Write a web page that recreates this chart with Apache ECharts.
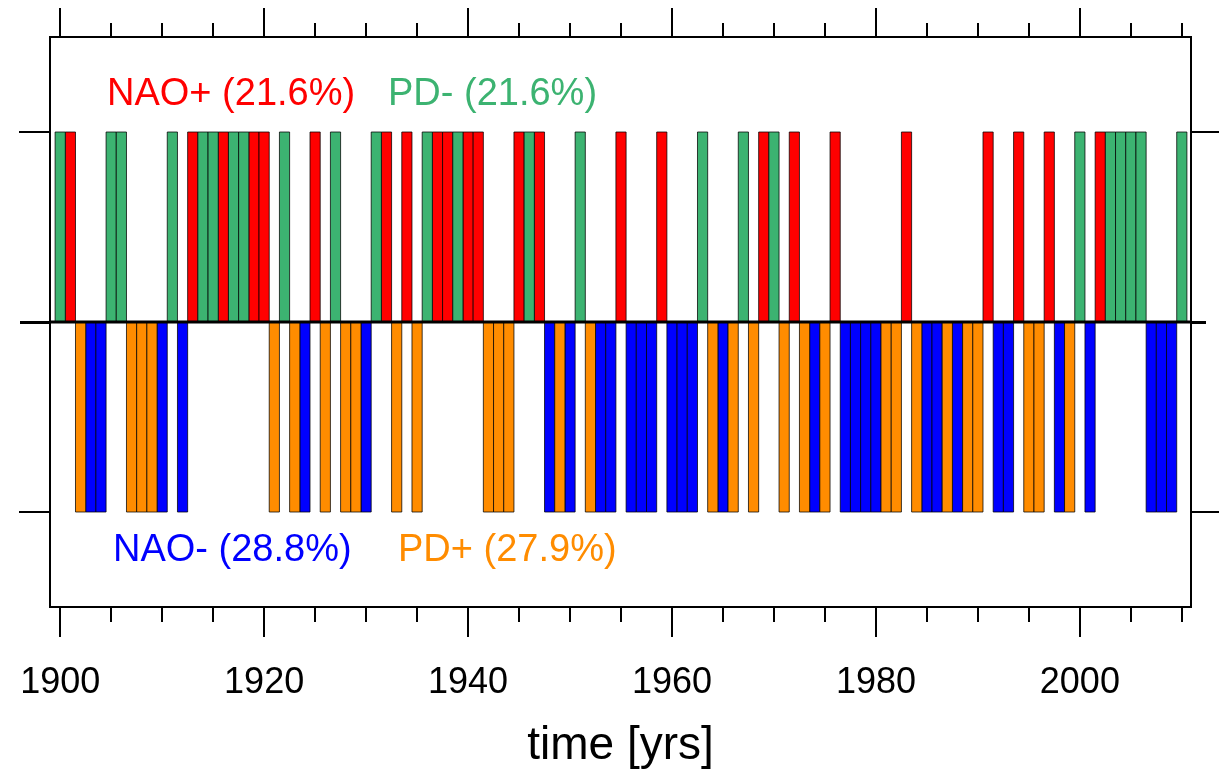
<!DOCTYPE html>
<html>
<head>
<meta charset="utf-8">
<script src="https://cdn.jsdelivr.net/npm/echarts@6/dist/echarts.min.js"></script>
<style>html,body{margin:0;padding:0;background:#fff;}#c{width:1225px;height:773px;}</style>
</head>
<body>
<div id="c"></div>
<script>
// Regime years (each year 1900-2010 belongs to one regime)
const naoPlusYears = [1901,1913,1916,1919,1920,1925,1932,1934,1937,1938,1940,1941,1945,1947,1955,1959,1969,1972,1976,1983,1991,1994,1997,2002];
const pdMinusYears = [1900,1905,1906,1911,1914,1915,1917,1918,1922,1927,1931,1936,1939,1946,1951,1963,1967,1970,2000,2003,2004,2005,2006,2010];
const naoMinusYears = [1903,1904,1910,1912,1924,1930,1948,1950,1953,1954,1956,1957,1958,1960,1961,1962,1965,1974,1977,1978,1979,1980,1985,1986,1988,1992,1993,1998,2001,2007,2008,2009];
const pdPlusYears = [1902,1907,1908,1909,1921,1923,1926,1928,1929,1933,1935,1942,1943,1944,1949,1952,1964,1966,1968,1971,1973,1975,1981,1982,1984,1987,1989,1990,1995,1996,1999];
// bar values: upper regimes +1, lower regimes -1
const upperValue = 1;
const lowerValue = -1;
// axis ticks
const majorTicks = [1900,1920,1940,1960,1980,2000];
const minorTicks = [1905,1910,1915,1925,1930,1935,1945,1950,1955,1965,1970,1975,1985,1990,1995,2005,2010];
const yTicks = [-1,1];
const zeroTick = [0];
const xMin = 1899, xMax = 2010.9;
const labels = [
  {text:'NAO+ (21.6%)', color:'#ff0000'},
  {text:'PD- (21.6%)', color:'#3cb371'},
  {text:'NAO- (28.8%)', color:'#0000ff'},
  {text:'PD+ (27.9%)', color:'#ff8c00'}
];

const FONT = '"Liberation Sans", Arial, Helvetica, sans-serif';
const chart = echarts.init(document.getElementById('c'), null, {renderer:'canvas'});

function barSeries(name, years, v, color){
  return {
    name, type:'custom', xAxisIndex:0, yAxisIndex:0,
    data: years.map(y => [y, v]),
    encode:{x:0, y:1},
    renderItem(params, api){
      const yr = api.value(0), val = api.value(1);
      const a = api.coord([yr - 0.5, val]);
      const b = api.coord([yr + 0.5, 0]);
      const x0 = Math.min(a[0], b[0]), y0 = Math.min(a[1], b[1]);
      return {type:'rect', shape:{x:x0, y:y0, width:Math.abs(b[0]-a[0]), height:Math.abs(b[1]-a[1])},
        style:{fill:color, stroke:'rgba(0,0,0,0.75)', lineWidth:1}};
    },
    emphasis:{disabled:true}, animation:false, z:2, silent:true
  };
}
function xAx(pos, ticks, len, withLabel){
  return {
    type:'value', position:pos, min:xMin, max:xMax, gridIndex:0,
    axisLine:{show:false, onZero:false},
    splitLine:{show:false},
    axisTick:{show:true, customValues:ticks, length:len, inside:false, lineStyle:{color:'#000', width:2}},
    axisLabel: withLabel ? {show:true, customValues:ticks, fontSize:36, color:'#000', fontFamily:FONT, margin:58, formatter:v=>String(v)} : {show:false},
  };
}
function yAx(pos, ticks, len, width){
  return {type:'value', position:pos, min:-1.5, max:1.5, axisLine:{show:false, onZero:false}, splitLine:{show:false}, axisLabel:{show:false},
    axisTick:{show:true, customValues:ticks, length:len, lineStyle:{color:'#000', width}}};
}
const xAxes = [xAx('bottom', majorTicks, 30, true), xAx('bottom', minorTicks, 15, false), xAx('top', majorTicks, 29, false), xAx('top', minorTicks, 14, false)];
xAxes[0].name = 'time [yrs]';
xAxes[0].nameLocation = 'middle';
xAxes[0].nameGap = 116;
xAxes[0].nameTextStyle = {fontSize:46, color:'#000', fontFamily:FONT};

const option = {
  backgroundColor:'#fff',
  animation:false,
  grid:{left:50, right:34, top:37, bottom:166, outerBoundsMode:'none', containLabel:false, show:true, borderColor:'#000', borderWidth:2, backgroundColor:'transparent'},
  xAxis: xAxes,
  yAxis:[
    yAx('left', yTicks, 31, 2),
    yAx('right', yTicks, 28, 2),
    yAx('left', zeroTick, 30, 3),
    yAx('right', zeroTick, 15, 3)
  ],
  series:[
    barSeries('NAO+', naoPlusYears, upperValue, labels[0].color),
    barSeries('PD-', pdMinusYears, upperValue, labels[1].color),
    barSeries('NAO-', naoMinusYears, lowerValue, labels[2].color),
    barSeries('PD+', pdPlusYears, lowerValue, labels[3].color),
    {type:'line', xAxisIndex:0, yAxisIndex:0, data:[[xMin,0],[xMax,0]], symbol:'none',
     lineStyle:{color:'#000', width:3}, z:5, silent:true}
  ],
  graphic:[
    {type:'text', left:107, top:76, style:{text:labels[0].text, fill:labels[0].color, font:'38px '+FONT}},
    {type:'text', left:388, top:76, style:{text:labels[1].text, fill:labels[1].color, font:'38px '+FONT}},
    {type:'text', left:113, top:532, style:{text:labels[2].text, fill:labels[2].color, font:'38px '+FONT}},
    {type:'text', left:398, top:532, style:{text:labels[3].text, fill:labels[3].color, font:'38px '+FONT}}
  ]
};
chart.setOption(option);
</script>
</body>
</html>
